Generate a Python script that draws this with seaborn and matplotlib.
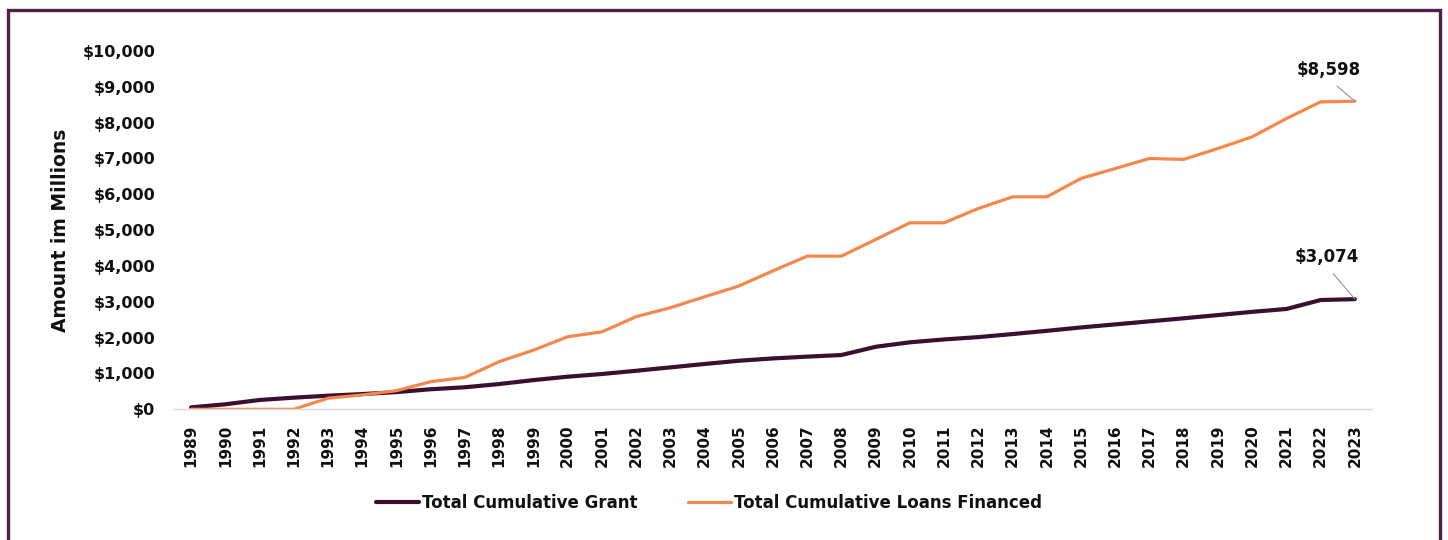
import numpy as np
import pandas as pd
import matplotlib
matplotlib.use("Agg")
import matplotlib.pyplot as plt
from matplotlib.patches import Rectangle
import seaborn as sns

# Cumulative totals in millions of dollars
years = list(range(1989, 2024))
grant = [55, 140, 260, 325, 380, 425, 480, 560, 615, 705, 815, 910, 985,
         1075, 1170, 1265, 1355, 1420, 1470, 1515, 1745, 1870, 1950, 2015,
         2100, 2190, 2285, 2370, 2455, 2540, 2630, 2720, 2800, 3050, 3074]
loans = [0, 0, 0, 0, 310, 400, 520, 770, 890, 1330, 1650, 2025, 2160,
         2585, 2835, 3140, 3440, 3865, 4275, 4275, 4740, 5205, 5205, 5605,
         5930, 5930, 6445, 6720, 7000, 6975, 7280, 7605, 8115, 8580, 8598]
series_names = ["Total Cumulative Grant", "Total Cumulative Loans Financed"]
y_ticks = list(range(0, 10001, 1000))

df = pd.DataFrame({
    "Year": years * 2,
    "Amount": grant + loans,
    "Series": [series_names[0]] * len(years) + [series_names[1]] * len(years),
})

sns.set_theme(style="white")
plt.rcParams["font.family"] = ["DejaVu Sans"]
plt.rcParams["font.weight"] = "bold"

TEXT = "#111111"

fig = plt.figure(figsize=(14.48, 5.40), dpi=100)
ax = fig.add_axes([174 / 1448, 1 - 409.3 / 540, (1372 - 174) / 1448, (409.3 - 51) / 540])

palette = {series_names[0]: "#3a1030", series_names[1]: "#f4884c"}
sns.lineplot(data=df, x="Year", y="Amount", hue="Series", palette=palette,
             ax=ax, legend=False)
ax.lines[0].set_linewidth(3.0)
ax.lines[1].set_linewidth(2.3)

ax.set_xlim(years[0] - 0.5, years[-1] + 0.5)
ax.set_ylim(0, 10000)
ax.set_xticks(years)
ax.set_xticklabels([str(y) for y in years], rotation=90, fontsize=11,
                   fontweight="bold", color=TEXT)
ax.set_yticks(y_ticks)
ax.set_yticklabels([f"${v:,}" for v in y_ticks], fontsize=11.5,
                   fontweight="bold", color=TEXT)
ax.tick_params(axis="x", length=0, pad=11)
ax.tick_params(axis="y", length=0, pad=13.5)

for side in ["top", "right", "left"]:
    ax.spines[side].set_visible(False)
ax.spines["bottom"].set_color("#d9d9d9")
ax.spines["bottom"].set_linewidth(1.0)

ax.set_xlabel("")
ax.set_ylabel("Amount im Millions", fontsize=13.5, fontweight="bold",
              color=TEXT, labelpad=9)

# Final-year value callouts with leader lines from the label's lower middle
for vals, offset in ((loans, (-26, 31)), (grant, (-28, 42))):
    ax.annotate(f"${vals[-1]:,}", xy=(years[-1], vals[-1]),
                xytext=offset, textcoords="offset pixels",
                ha="center", va="center", fontsize=12, fontweight="bold",
                color=TEXT,
                arrowprops=dict(arrowstyle="-", color="#8a94a8", lw=0.8,
                                relpos=(0.5, 0.0), shrinkA=4, shrinkB=0))

handles = [plt.Line2D([], [], color=palette[series_names[0]], lw=3.0),
           plt.Line2D([], [], color=palette[series_names[1]], lw=2.3)]
fig.legend(handles, series_names, loc="center",
           bbox_to_anchor=(709 / 1448, 1 - 503 / 540), ncol=2, frameon=False,
           prop={"family": "DejaVu Sans", "weight": "bold", "size": 12},
           labelcolor=TEXT,
           handlelength=2.6, handletextpad=0.2, columnspacing=3.0)

# Outer frame
fig.patches.append(Rectangle((8 / 1448, -0.1), (1440 - 8) / 1448, 1.1 - 10 / 540,
                             transform=fig.transFigure, fill=False,
                             edgecolor="#4f1f45", linewidth=2.4))

fig.savefig("out.png", dpi=100)
